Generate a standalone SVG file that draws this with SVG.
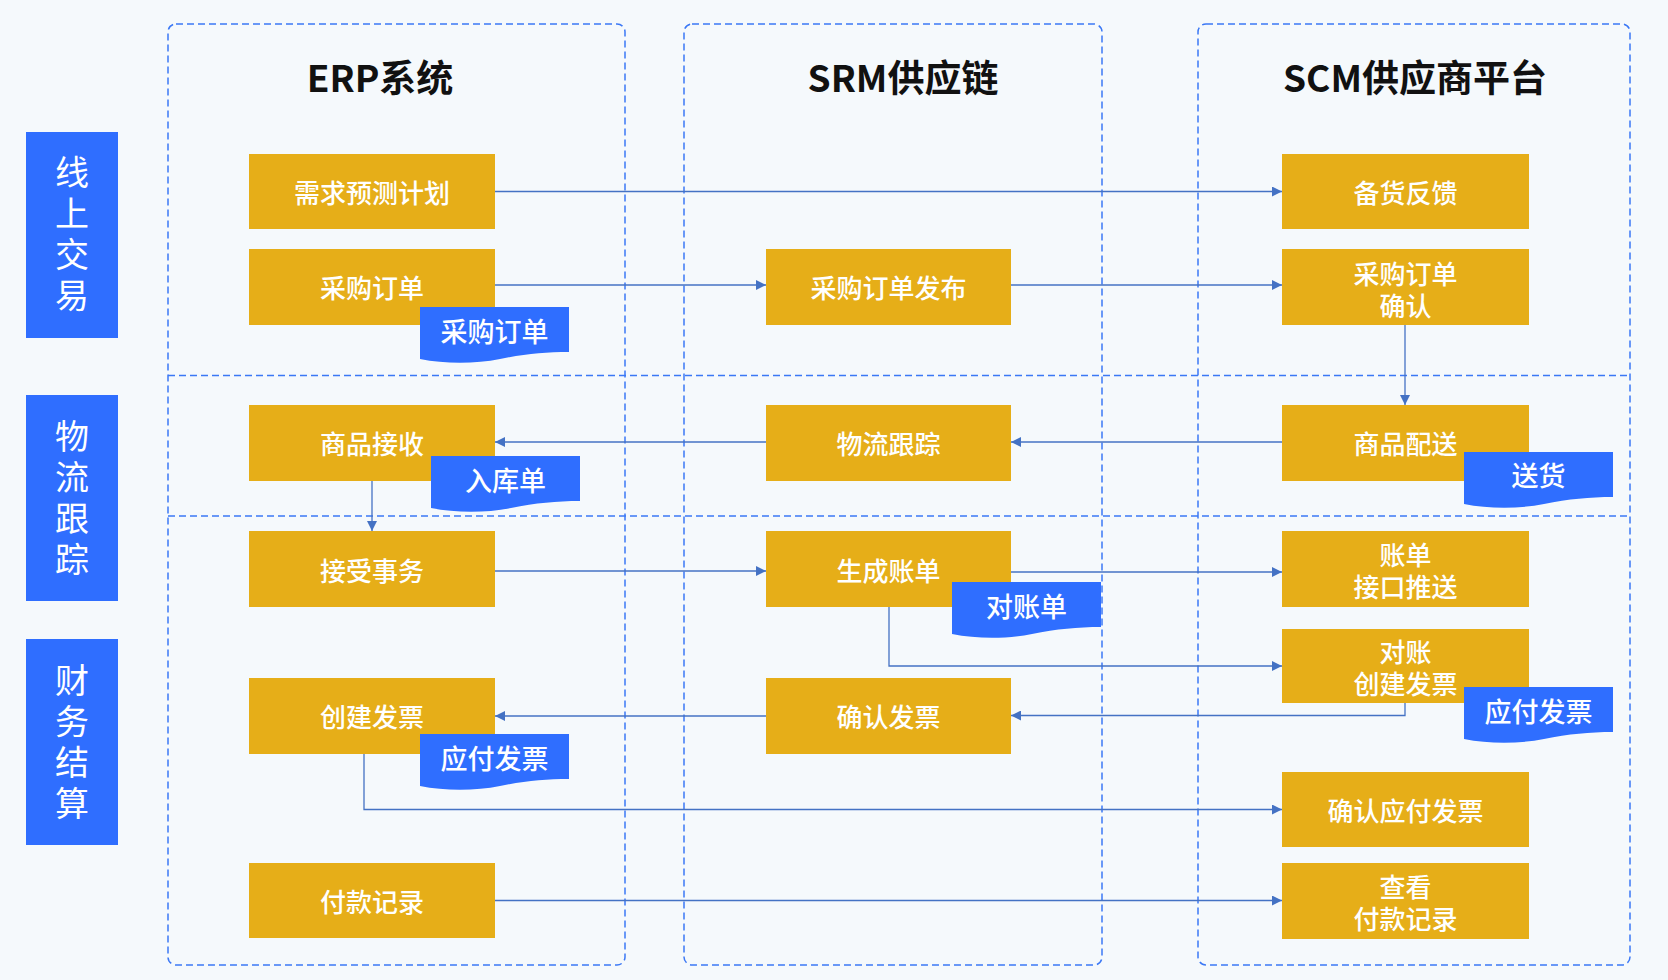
<svg xmlns="http://www.w3.org/2000/svg" xmlns:xlink="http://www.w3.org/1999/xlink" width="1668" height="980" viewBox="0 0 1668 980">
<style>
.bg{fill:#F5F9FC}
.cont{fill:none;stroke:#3B78F5;stroke-width:1.5;stroke-dasharray:7 4}
.lane rect{fill:#2F6EFF}
.lane text{fill:#fff;font-family:"Noto Sans CJK SC","Noto Sans",sans-serif;font-size:34px;text-anchor:middle;writing-mode:vertical-rl;letter-spacing:7px}
.title{fill:#111;font-family:"Noto Sans CJK SC","Noto Sans",sans-serif;font-size:37px;font-weight:bold;text-anchor:middle;dominant-baseline:central}
.node rect{fill:#E6AE18}
.node text{fill:#fff;font-family:"Noto Sans CJK SC","Noto Sans",sans-serif;font-size:26px;font-weight:500;text-anchor:middle;dominant-baseline:central}
.tag path{fill:#2F6EFF}
.tag text{fill:#fff;font-family:"Noto Sans CJK SC","Noto Sans",sans-serif;font-size:27px;font-weight:500;text-anchor:middle;dominant-baseline:central}
.conn path{fill:none;stroke:#4472C4;stroke-width:1.3;marker-end:url(#arr)}
</style>
<defs>
<marker id="arr" markerUnits="userSpaceOnUse" markerWidth="10" markerHeight="10" refX="10" refY="5" orient="auto">
<path d="M0,0 L10,5 L0,10 Z" fill="#4472C4"/>
</marker>
<path id="tagshape" d="M0,0 H149 V45 C125,45 105,47 80,52 C55,57 25,57 0,52 Z"/>
</defs>
<rect class="bg" x="0" y="0" width="1668" height="980"/>

<g id="containers">
<rect class="cont" x="168" y="24" width="457" height="941" rx="8"/>
<rect class="cont" x="684" y="24" width="418" height="941" rx="8"/>
<rect class="cont" x="1198" y="24" width="432" height="941" rx="8"/>
<line class="cont" x1="168" y1="375.5" x2="1630" y2="375.5"/>
<line class="cont" x1="168" y1="516" x2="1630" y2="516"/>
<text class="title" x="380" y="76">ERP系统</text>
<text class="title" x="903" y="76">SRM供应链</text>
<text class="title" x="1415" y="76">SCM供应商平台</text>
</g>

<g id="lane-online" class="lane">
<rect x="26" y="132" width="92" height="206"/>
<text x="72" y="237">线上交易</text>
</g>
<g id="lane-logistics" class="lane">
<rect x="26" y="395" width="92" height="206"/>
<text x="72" y="501">物流跟踪</text>
</g>
<g id="lane-finance" class="lane">
<rect x="26" y="639" width="92" height="206"/>
<text x="72" y="745">财务结算</text>
</g>

<g id="connectors" class="conn">
<path d="M495,191.5 H1282"/>
<path d="M495,285 H766"/>
<path d="M1011,285 H1282"/>
<path d="M1405,325 V405"/>
<path d="M1282,442 H1011"/>
<path d="M766,442 H495"/>
<path d="M372,481 V531"/>
<path d="M495,571 H766"/>
<path d="M1011,572 H1282"/>
<path d="M889,607 V666 H1282"/>
<path d="M1405,703 V715.5 H1011"/>
<path d="M766,716 H495"/>
<path d="M364,754 V809.5 H1282"/>
<path d="M495,900.5 H1282"/>
</g>

<g id="n-demand" class="node"><rect x="249" y="154" width="246" height="75"/><text x="372" y="191.5">需求预测计划</text></g>
<g id="n-po" class="node"><rect x="249" y="249" width="246" height="76"/><text x="372" y="286">采购订单</text></g>
<g id="n-receive" class="node"><rect x="249" y="405" width="246" height="76"/><text x="372" y="442">商品接收</text></g>
<g id="n-accept" class="node"><rect x="249" y="531" width="246" height="76"/><text x="372" y="569">接受事务</text></g>
<g id="n-createinv" class="node"><rect x="249" y="678" width="246" height="76"/><text x="372" y="715">创建发票</text></g>
<g id="n-payrec" class="node"><rect x="249" y="863" width="246" height="75"/><text x="372" y="900.5">付款记录</text></g>

<g id="n-popub" class="node"><rect x="766" y="249" width="245" height="76"/><text x="888.5" y="286">采购订单发布</text></g>
<g id="n-track" class="node"><rect x="766" y="405" width="245" height="76"/><text x="888.5" y="442">物流跟踪</text></g>
<g id="n-bill" class="node"><rect x="766" y="531" width="245" height="76"/><text x="888.5" y="569">生成账单</text></g>
<g id="n-confinv" class="node"><rect x="766" y="678" width="245" height="76"/><text x="888.5" y="715">确认发票</text></g>

<g id="n-stock" class="node"><rect x="1282" y="154" width="247" height="75"/><text x="1405.5" y="191.5">备货反馈</text></g>
<g id="n-poconf" class="node"><rect x="1282" y="249" width="247" height="76"/><text x="1405.5" y="272">采购订单<tspan x="1405.5" dy="32">确认</tspan></text></g>
<g id="n-deliver" class="node"><rect x="1282" y="405" width="247" height="76"/><text x="1405.5" y="442">商品配送</text></g>
<g id="n-billpush" class="node"><rect x="1282" y="531" width="247" height="76"/><text x="1405.5" y="553">账单<tspan x="1405.5" dy="32">接口推送</tspan></text></g>
<g id="n-reconcile" class="node"><rect x="1282" y="629" width="247" height="74"/><text x="1405.5" y="650">对账<tspan x="1405.5" dy="32">创建发票</tspan></text></g>
<g id="n-confap" class="node"><rect x="1282" y="772" width="247" height="75"/><text x="1405.5" y="809.5">确认应付发票</text></g>
<g id="n-viewpay" class="node"><rect x="1282" y="863" width="247" height="76"/><text x="1405.5" y="885">查看<tspan x="1405.5" dy="32">付款记录</tspan></text></g>

<g id="t-po" class="tag"><use xlink:href="#tagshape" href="#tagshape" x="420" y="307" fill="#2F6EFF"/><text x="494.5" y="330">采购订单</text></g>
<g id="t-inbound" class="tag"><use xlink:href="#tagshape" href="#tagshape" x="431" y="456" fill="#2F6EFF"/><text x="505.5" y="479">入库单</text></g>
<g id="t-apinv1" class="tag"><use xlink:href="#tagshape" href="#tagshape" x="420" y="734" fill="#2F6EFF"/><text x="494.5" y="757">应付发票</text></g>
<g id="t-ship" class="tag"><use xlink:href="#tagshape" href="#tagshape" x="1464" y="452" fill="#2F6EFF"/><text x="1538.5" y="474">送货</text></g>
<g id="t-stmt" class="tag"><use xlink:href="#tagshape" href="#tagshape" x="952" y="582" fill="#2F6EFF"/><text x="1026.5" y="605">对账单</text></g>
<g id="t-apinv2" class="tag"><use xlink:href="#tagshape" href="#tagshape" x="1464" y="687" fill="#2F6EFF"/><text x="1538.5" y="710">应付发票</text></g>
</svg>
